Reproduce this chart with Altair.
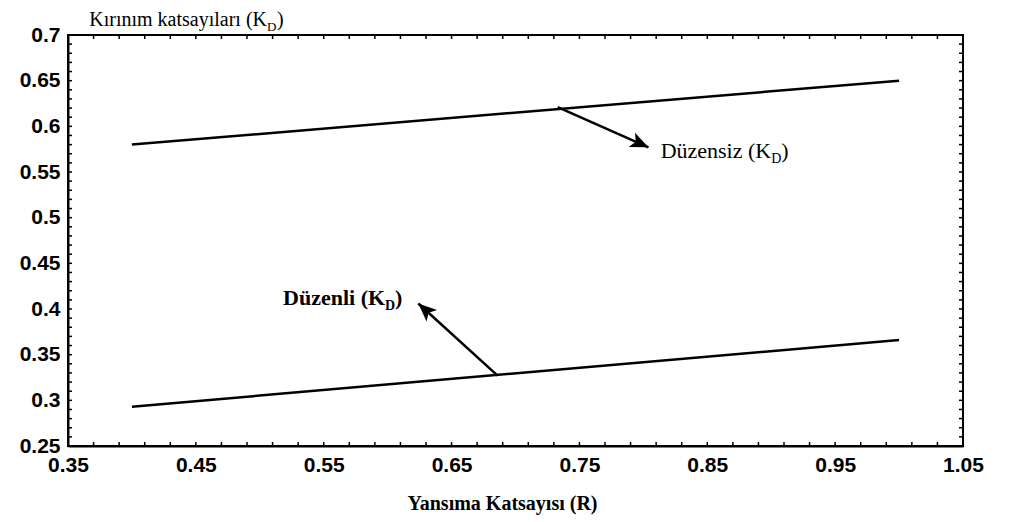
import math
import altair as alt
import pandas as pd

# ---- data ----
R = [0.40, 1.00]
duzensiz = [0.580, 0.650]
duzenli = [0.293, 0.366]

x_major = [0.35, 0.45, 0.55, 0.65, 0.75, 0.85, 0.95, 1.05]
y_major = [0.25, 0.30, 0.35, 0.40, 0.45, 0.50, 0.55, 0.60, 0.65, 0.70]
x_minor = [round(0.35 + 0.02 * i, 2) for i in range(36)]
y_minor = [round(0.25 + 0.01 * i, 2) for i in range(46)]

# annotation arrows (start on line -> tip)
arrow_x1 = [0.733, 0.686]
arrow_y1 = [0.621, 0.327]
arrow_x2 = [0.804, 0.624]
arrow_y2 = [0.577, 0.406]

# annotation label anchors (end of "(K")
lab_text = ["Düzensiz (K", "Düzenli (K"]
lab_x = [0.900, 0.598]
lab_y = [0.565, 0.404]
lab_bold = [False, True]

W, H = 895, 411
XD = [0.35, 1.05]
YD = [0.25, 0.70]
pxx = W / (XD[1] - XD[0])
pxy = H / (YD[1] - YD[0])

SERIF = "Liberation Serif"
SANS = "Liberation Sans"

xs = alt.Scale(domain=XD, nice=False, zero=False)
ys = alt.Scale(domain=YD, nice=False, zero=False)

lines_df = pd.DataFrame({
    "R": R * 2,
    "K": duzensiz + duzenli,
    "s": ["Düzensiz"] * 2 + ["Düzenli"] * 2,
})

lines = alt.Chart(lines_df).mark_line(color="black", strokeWidth=2.5).encode(
    x=alt.X("R:Q", scale=xs,
            axis=alt.Axis(values=x_major, format=".2~f", title="Yansıma Katsayısı (R)",
                          titleX=434, titleY=63, titleBaseline="alphabetic",
                          titleAlign="center")),
    y=alt.Y("K:Q", scale=ys,
            axis=alt.Axis(values=y_major, format=".2~f", title=None)),
    detail="s:N",
)

# ticks (inward) on all four sides
xt = pd.DataFrame({"t": x_minor})
yt = pd.DataFrame({"t": y_minor})
tk = dict(color="black", strokeWidth=1.5)
tick_b = alt.Chart(xt).mark_rule(**tk).encode(
    x=alt.X("t:Q", scale=xs), y=alt.value(H), y2=alt.value(H - 4))
tick_t = alt.Chart(xt).mark_rule(**tk).encode(
    x=alt.X("t:Q", scale=xs), y=alt.value(0), y2=alt.value(4))
tick_l = alt.Chart(yt).mark_rule(**tk).encode(
    y=alt.Y("t:Q", scale=ys), x=alt.value(0), x2=alt.value(4))
tick_r = alt.Chart(yt).mark_rule(**tk).encode(
    y=alt.Y("t:Q", scale=ys), x=alt.value(W), x2=alt.value(W - 4))

# arrows
ang = []
for a, b, c, d in zip(arrow_x1, arrow_y1, arrow_x2, arrow_y2):
    dx = (c - a) * pxx
    dy = -(d - b) * pxy
    ang.append(math.degrees(math.atan2(dx, -dy)) % 360)
arr_df = pd.DataFrame({"x1": arrow_x1, "y1": arrow_y1, "x2": arrow_x2, "y2": arrow_y2, "ang": ang})

shafts = alt.Chart(arr_df).mark_rule(color="black", strokeWidth=2.5).encode(
    x=alt.X("x1:Q", scale=xs), y=alt.Y("y1:Q", scale=ys),
    x2="x2:Q", y2="y2:Q")
heads = alt.Chart(arr_df).mark_point(
    shape="M0,0 L-0.45,1.05 L0,0.8 L0.45,1.05 Z", filled=True, color="black",
    opacity=1, size=1200, strokeWidth=0).encode(
    x=alt.X("x2:Q", scale=xs), y=alt.Y("y2:Q", scale=ys),
    angle=alt.Angle("ang:Q", scale=None))

layers = [lines, tick_b, tick_t, tick_l, tick_r, shafts, heads]

# annotation labels with subscript D
for t, x, y, b in zip(lab_text, lab_x, lab_y, lab_bold):
    d = pd.DataFrame({"x": [x], "y": [y], "t": [t]})
    fw = "bold" if b else "normal"
    base = alt.Chart(d)
    enc = dict(x=alt.X("x:Q", scale=xs), y=alt.Y("y:Q", scale=ys))
    layers.append(base.mark_text(font=SERIF, fontSize=22, fontWeight=fw, align="right",
                                 baseline="alphabetic", color="black").encode(text="t:N", **enc))
    layers.append(base.mark_text(font=SERIF, fontSize=14, fontWeight=fw, align="left",
                                 baseline="alphabetic", dy=5, color="black", text="D").encode(**enc))
    layers.append(base.mark_text(font=SERIF, fontSize=22, fontWeight=fw, align="left",
                                 baseline="alphabetic", dx=10, color="black", text=")").encode(**enc))

# y-axis title at top-left, with subscript
yt_df = pd.DataFrame({"t": ["Kırınım katsayıları (K"]})
ytb = alt.Chart(yt_df)
layers.append(ytb.mark_text(font=SERIF, fontSize=20, align="right", baseline="alphabetic",
                            color="black").encode(text="t:N", x=alt.value(199), y=alt.value(-9)))
layers.append(ytb.mark_text(font=SERIF, fontSize=13, align="left", baseline="alphabetic",
                            color="black", text="D").encode(x=alt.value(199), y=alt.value(-4)))
layers.append(ytb.mark_text(font=SERIF, fontSize=20, align="left", baseline="alphabetic",
                            color="black", text=")").encode(x=alt.value(209), y=alt.value(-9)))

chart = alt.layer(*layers).properties(
    width=W, height=H,
    background="white",
    autosize=alt.AutoSizeParams(type="none"),
    padding={"left": 60, "top": 27, "right": 30, "bottom": 72},
).configure_view(
    stroke="black", strokeWidth=2
).configure_axis(
    grid=False, ticks=False, domainColor="black", domainWidth=2,
    labelFont=SANS, labelFontSize=21, labelFontWeight="bold", labelColor="black",
    labelPadding=8, labelOverlap=False, labelFlush=False,
    titleFont=SERIF, titleFontSize=20, titleFontWeight="bold", titleColor="black",
)

chart.save("out.html", embed_options={"renderer": "svg", "actions": False})
